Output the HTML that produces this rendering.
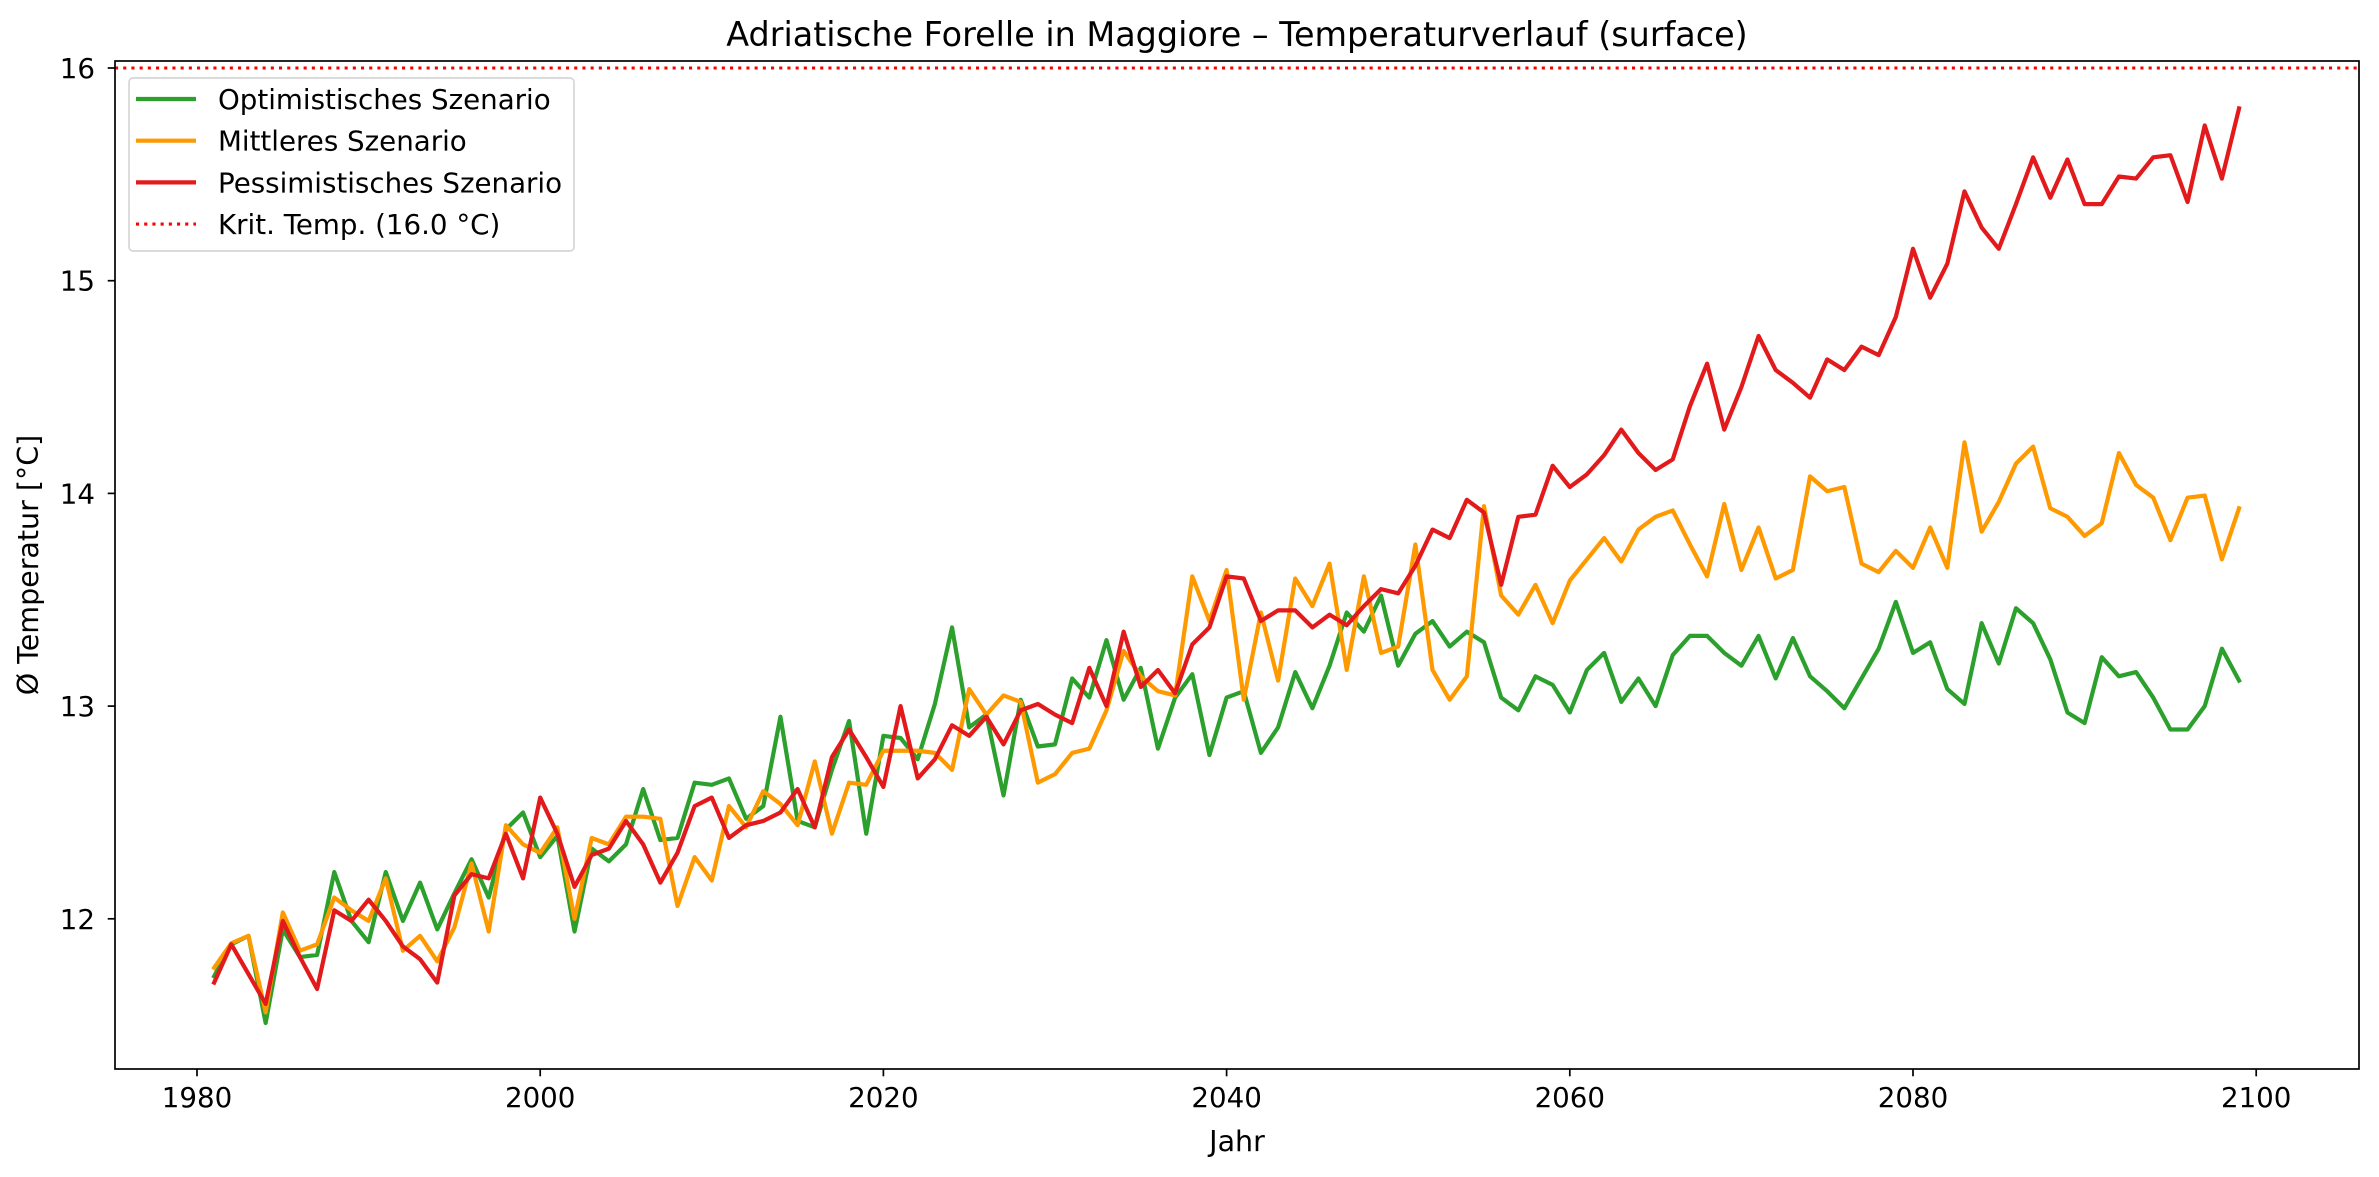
<!DOCTYPE html>
<html>
<head>
<meta charset="utf-8">
<style>
html,body{margin:0;padding:0;background:#fff;}
svg{display:block;font-family:"DejaVu Sans","Liberation Sans",sans-serif;}
</style>
</head>
<body>
<svg id="chart" width="2379" height="1177" viewBox="0 0 2379 1177" xmlns="http://www.w3.org/2000/svg">
<rect x="0" y="0" width="2379" height="1177" fill="#fff"/>
<text x="1237" y="46" font-size="33.4" text-anchor="middle" fill="#000">Adriatische Forelle in Maggiore – Temperaturverlauf (surface)</text>
<text x="0" y="0" font-size="28.5" text-anchor="middle" fill="#000" transform="translate(38,565) rotate(-90)">Ø Temperatur [°C]</text>
<text x="1237" y="1151" font-size="28.5" text-anchor="middle" fill="#000">Jahr</text>
<g id="plot"></g>
</svg>
<script>
const years = [];
for (let y = 1981; y <= 2099; y++) years.push(y);
const optimistic = [11.73,11.88,11.92,11.51,11.95,11.82,11.83,12.22,11.99,11.89,12.22,11.99,12.17,11.95,12.12,12.28,12.10,12.42,12.50,12.29,12.39,11.94,
12.33,12.27,12.35,12.61,12.37,12.38,12.64,12.63,12.66,12.47,12.53,12.95,12.46,12.43,12.70,12.93,12.40,12.86,12.85,12.75,13.01,13.37,
12.90,12.96,12.58,13.03,12.81,12.82,13.13,13.04,13.31,13.03,13.18,12.80,13.04,13.15,12.77,13.04,13.07,12.78,12.90,13.16,12.99,13.19,
13.44,13.35,13.52,13.19,13.34,13.40,13.28,13.35,13.30,13.04,12.98,13.14,13.10,12.97,13.17,13.25,13.02,13.13,13.00,13.24,13.33,13.33,
13.25,13.19,13.33,13.13,13.32,13.14,13.07,12.99,13.13,13.27,13.49,13.25,13.30,13.08,13.01,13.39,13.20,13.46,13.39,13.22,12.97,12.92,
13.23,13.14,13.16,13.04,12.89,12.89,13.00,13.27,13.12];
const medium = [11.77,11.885,11.92,11.56,12.03,11.85,11.88,12.10,12.04,11.99,12.19,11.85,11.92,11.80,11.96,12.26,11.94,12.44,12.35,12.31,12.43,12.00,
12.38,12.35,12.48,12.48,12.47,12.06,12.29,12.18,12.53,12.43,12.60,12.54,12.44,12.74,12.40,12.64,12.63,12.79,12.79,12.79,12.78,12.70,
13.08,12.96,13.05,13.02,12.64,12.68,12.78,12.80,12.98,13.26,13.14,13.07,13.05,13.61,13.40,13.64,13.03,13.44,13.12,13.60,13.47,13.67,
13.17,13.61,13.25,13.28,13.76,13.17,13.03,13.14,13.94,13.52,13.43,13.57,13.39,13.59,13.69,13.79,13.68,13.83,13.89,13.92,13.76,13.61,
13.95,13.64,13.84,13.60,13.64,14.08,14.01,14.03,13.67,13.63,13.73,13.65,13.84,13.65,14.24,13.82,13.96,14.14,14.22,13.93,13.89,13.80,
13.86,14.19,14.04,13.98,13.78,13.98,13.99,13.69,13.93];
const pessimistic = [11.70,11.88,11.74,11.60,11.99,11.82,11.67,12.04,11.99,12.09,11.99,11.87,11.81,11.70,12.11,12.21,12.19,12.40,12.19,12.57,12.40,12.15,
12.30,12.33,12.46,12.35,12.17,12.31,12.53,12.57,12.38,12.44,12.46,12.50,12.61,12.43,12.76,12.89,12.76,12.62,13.00,12.66,12.75,12.91,
12.86,12.95,12.82,12.98,13.01,12.96,12.92,13.18,13.00,13.35,13.09,13.17,13.06,13.29,13.37,13.61,13.60,13.40,13.45,13.45,13.37,13.43,
13.38,13.47,13.55,13.53,13.66,13.83,13.79,13.97,13.91,13.57,13.89,13.90,14.13,14.03,14.09,14.18,14.30,14.19,14.11,14.16,14.41,14.61,
14.30,14.50,14.74,14.58,14.52,14.45,14.63,14.58,14.69,14.65,14.83,15.15,14.92,15.08,15.42,15.25,15.15,15.36,15.58,15.39,15.57,15.36,
15.36,15.49,15.48,15.58,15.59,15.37,15.73,15.48,15.81];
const criticalTemp = 16.0;
const yTicks = [12, 13, 14, 15, 16];
const xTicks = [1980, 2000, 2020, 2040, 2060, 2080, 2100];

const NS = "http://www.w3.org/2000/svg";
const L = 115, R = 2359, T = 61, B = 1069;
function xScale(v){ return 197 + (v - 1980) * 17.16; }
function yScale(v){ return 68 + (16 - v) * 212.7; }
const plot = document.getElementById('plot');
function mk(tag, attrs){
  const e = document.createElementNS(NS, tag);
  for (const k in attrs) e.setAttribute(k, attrs[k]);
  return e;
}
const defs = mk('defs', {});
const cp = mk('clipPath', {id:'clip'});
cp.appendChild(mk('rect', {x:L, y:T, width:R-L, height:B-T}));
defs.appendChild(cp);
plot.appendChild(defs);

const series = [
  {vals: optimistic, color:'#2ca02c', name:'line-optimistic'},
  {vals: medium, color:'#ff9900', name:'line-medium'},
  {vals: pessimistic, color:'#e31a1c', name:'line-pessimistic'}
];
const lines = mk('g', {'clip-path':'url(#clip)'});


series.forEach(s => {
  const pts = s.vals.map((v,i) => xScale(years[i]).toFixed(2) + ',' + yScale(v).toFixed(2)).join(' ');
  const pl = mk('polyline', {points: pts, fill:'none', stroke:s.color, 'stroke-width':4.2, 'stroke-linejoin':'round', 'stroke-linecap':'square'});
  
  
  lines.appendChild(pl);
});
const crit = mk('line', {x1:L, x2:R, y1:yScale(criticalTemp), y2:yScale(criticalTemp), stroke:'#ff0000', 'stroke-width':3.1, 'stroke-dasharray':'3.1,5.1'});


lines.appendChild(crit);
plot.appendChild(lines);

const frame = mk('rect', {x:L, y:T, width:R-L, height:B-T, fill:'none', stroke:'#000', 'stroke-width':1.7});


plot.appendChild(frame);

yTicks.forEach(v => {
  const y = yScale(v);
  const t = mk('line', {x1:L-7.3, x2:L, y1:y, y2:y, stroke:'#000', 'stroke-width':1.7});
  
  
  plot.appendChild(t);
  const lb = mk('text', {x:L-20, y:y+10, 'font-size':27.7, 'text-anchor':'end', fill:'#000'});
  lb.textContent = String(v);
  
  
  plot.appendChild(lb);
});
xTicks.forEach(v => {
  const x = xScale(v);
  const t = mk('line', {x1:x, x2:x, y1:B, y2:B+7.3, stroke:'#000', 'stroke-width':1.7});
  
  
  plot.appendChild(t);
  const lb = mk('text', {x:x, y:B+38, 'font-size':27.7, 'text-anchor':'middle', fill:'#000'});
  lb.textContent = String(v);
  
  
  plot.appendChild(lb);
});

const legend = mk('g', {});


const lbox = mk('rect', {x:129, y:78, width:445, height:173, rx:4, fill:'#fff', 'fill-opacity':0.8, stroke:'#d6d6d6', 'stroke-width':1.7});


legend.appendChild(lbox);
const entries = [
  {label:'Optimistisches Szenario', color:'#2ca02c', dash:null, name:'legend-entry-optimistic'},
  {label:'Mittleres Szenario', color:'#ff9900', dash:null, name:'legend-entry-medium'},
  {label:'Pessimistisches Szenario', color:'#e31a1c', dash:null, name:'legend-entry-pessimistic'},
  {label:'Krit. Temp. (16.0 °C)', color:'#ff0000', dash:'3.1,5.1', name:'legend-entry-critical'}
];
entries.forEach((en, i) => {
  const cy = 99 + i * 41.7;
  const g = mk('g', {});
  
  
  const ln = mk('line', {x1:136, x2:196, y1:cy, y2:cy, stroke:en.color, 'stroke-width': en.dash ? 3.1 : 4.2});
  if (en.dash) ln.setAttribute('stroke-dasharray', en.dash);
  g.appendChild(ln);
  const tx = mk('text', {x:218, y:cy+10, 'font-size':27.7, fill:'#000'});
  tx.textContent = en.label;
  g.appendChild(tx);
  legend.appendChild(g);
});
plot.appendChild(legend);
</script>
</body>
</html>
